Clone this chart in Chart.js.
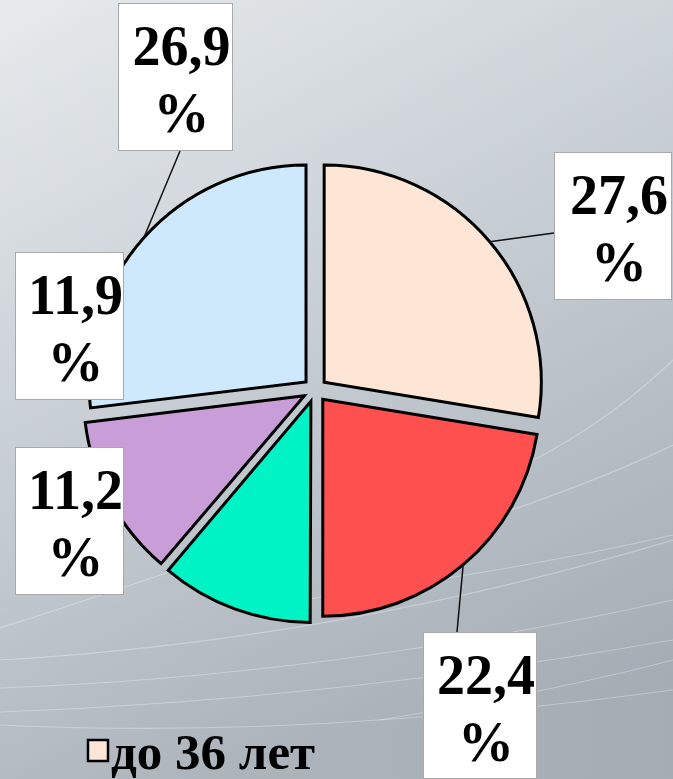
<!DOCTYPE html>
<html lang="ru">
<head>
<meta charset="utf-8">
<title>Возрастной состав</title>
<script src="https://cdn.jsdelivr.net/npm/chart.js@4/dist/chart.umd.min.js"></script>
<style>
  html, body { margin: 0; padding: 0; width: 673px; height: 779px; overflow: hidden; background: #c9d0d6; }
  canvas { display: block; }
</style>
</head>
<body>
<canvas id="pie" width="673" height="779"></canvas>
<script>
// Age groups and their shares, in percent
const categories = ['до 36 лет', '36–45 лет', '46–55 лет', '56–65 лет', 'старше 65 лет'];
const shares = [27.6, 22.4, 11.2, 11.9, 26.9];
const sliceColors = ['#fde6d6', '#ff5050', '#00f3c4', '#c99dd7', '#cde9fb'];

const SERIF = '"Liberation Serif"';

// Gradient backdrop with faint light streaks
const backdrop = {
  id: 'backdrop',
  beforeDraw(chart) {
    const { ctx, width, height } = chart;
    ctx.save();
    const g = ctx.createLinearGradient(0, 0, 160, height);
    g.addColorStop(0, '#e4e8eb');
    g.addColorStop(0.45, '#c9d0d6');
    g.addColorStop(1, '#a9b1b9');
    ctx.fillStyle = g;
    ctx.fillRect(0, 0, width, height);
    const side = ctx.createLinearGradient(0, 0, width, 0);
    side.addColorStop(0, 'rgba(255,255,255,0.10)');
    side.addColorStop(1, 'rgba(120,130,140,0.10)');
    ctx.fillStyle = side;
    ctx.fillRect(0, 0, width, height);

    ctx.strokeStyle = 'rgba(255,255,255,0.3)';
    ctx.lineWidth = 1.2;
    const streaks = [
      [0, 628, 120, 590, 260, 540],
      [0, 660, 340, 640, 673, 540],
      [0, 688, 330, 676, 673, 600],
      [0, 712, 330, 700, 673, 640],
      [0, 725, 300, 740, 673, 690],
      [380, 520, 560, 470, 673, 360],
      [420, 540, 580, 490, 673, 445],
      [300, 600, 520, 570, 673, 535],
      [380, 720, 560, 690, 673, 660]
    ];
    streaks.forEach(s => {
      ctx.beginPath();
      ctx.moveTo(s[0], s[1]);
      ctx.quadraticCurveTo(s[2], s[3], s[4], s[5]);
      ctx.stroke();
    });
    ctx.restore();
  }
};

// Value boxes (white with thin grey frame) and leader lines to the slices
const labelBoxes = {
  id: 'labelBoxes',
  afterDatasetsDraw(chart) {
    const { ctx } = chart;
    const meta = chart.getDatasetMeta(0);
    const boxes = [
      { x: 554, y: 152, w: 118, h: 148, lead: [0, 81] },
      { x: 423, y: 632, w: 114, h: 147, lead: [34, 0] },
      { x: 15,  y: 447, w: 109, h: 148, lead: null },
      { x: 15,  y: 252, w: 109, h: 148, lead: null },
      { x: 118, y: 3,   w: 115, h: 148, lead: [62, 148] }
    ];
    ctx.save();
    meta.data.forEach((arc, i) => {
      const b = boxes[i];
      if (!b.lead) return;
      const p = arc.getProps(['x', 'y', 'startAngle', 'endAngle', 'outerRadius'], true);
      const mid = (p.startAngle + p.endAngle) / 2;
      const shift = (arc.options.offset || 0) / 4;
      const r = p.outerRadius + shift;
      const ex = p.x + Math.cos(mid) * r;
      const ey = p.y + Math.sin(mid) * r;
      ctx.strokeStyle = '#111';
      ctx.lineWidth = 1.5;
      ctx.beginPath();
      ctx.moveTo(b.x + b.lead[0], b.y + b.lead[1]);
      ctx.lineTo(ex, ey);
      ctx.stroke();
    });
    ctx.font = 'bold 56px ' + SERIF;
    ctx.textAlign = 'center';
    ctx.textBaseline = 'alphabetic';
    meta.data.forEach((arc, i) => {
      const b = boxes[i];
      ctx.fillStyle = '#ffffff';
      ctx.fillRect(b.x, b.y, b.w, b.h);
      ctx.strokeStyle = '#a9a9a9';
      ctx.lineWidth = 1;
      ctx.strokeRect(b.x + 0.5, b.y + 0.5, b.w - 1, b.h - 1);
      const txt = String(shares[i]).replace('.', ',');
      ctx.fillStyle = '#000';
      const cx = b.x + b.w / 2 + 6;
      ctx.fillText(txt, cx, b.y + 62);
      ctx.fillText('%', cx, b.y + 129);
    });
    ctx.restore();
  }
};

// Legend row (first entry)
const legendRow = {
  id: 'legendRow',
  afterDraw(chart) {
    const { ctx } = chart;
    ctx.save();
    ctx.fillStyle = sliceColors[0];
    ctx.fillRect(88, 740, 20, 21);
    ctx.strokeStyle = '#000';
    ctx.lineWidth = 2.5;
    ctx.strokeRect(88, 740, 20, 21);
    ctx.fillStyle = '#000';
    ctx.font = 'bold 51px ' + SERIF;
    ctx.textAlign = 'left';
    ctx.textBaseline = 'alphabetic';
    ctx.fillText(categories[0], 111, 769);
    ctx.restore();
  }
};

new Chart(document.getElementById('pie'), {
  type: 'pie',
  data: {
    labels: categories,
    datasets: [{
      data: shares,
      backgroundColor: sliceColors,
      borderColor: '#000',
      borderWidth: 3,
      borderJoinStyle: 'miter',
      offset: 48
    }]
  },
  options: {
    responsive: false,
    animation: false,
    radius: 217,
    layout: { padding: { left: 0, right: 43, top: 1, bottom: 0 } },
    plugins: {
      legend: { display: false },
      tooltip: { enabled: false },
      title: { display: false }
    }
  },
  plugins: [backdrop, labelBoxes, legendRow]
});
</script>
</body>
</html>
